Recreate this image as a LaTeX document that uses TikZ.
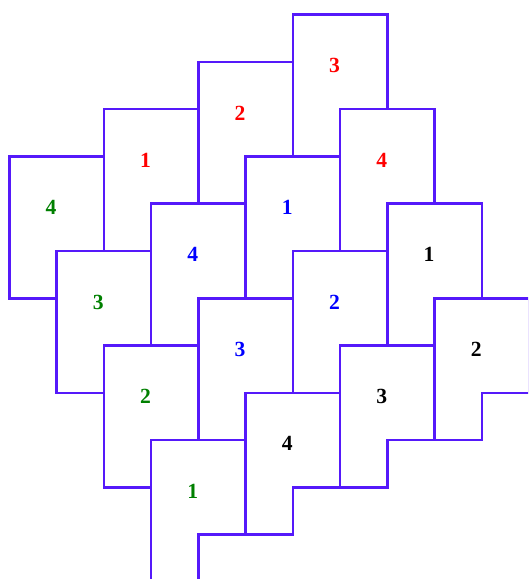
\documentclass[tikz,border=0pt]{standalone}
\usepackage{fontspec}
\setmainfont{Liberation Serif}
\definecolor{edgeblue}{RGB}{85,25,250}
\definecolor{labelgreen}{RGB}{0,128,0}
\tikzstyle{tile} = [
    draw=edgeblue,
    line width=1.5pt
]
\tikzstyle{tilelabel} = [
    inner sep=0pt,
    font=\fontsize{13}{15}\selectfont\bfseries
]
% one P-shaped tile: corner x, corner y, label, colour, name
\newcommand{\ptile}[5]{%
    \draw [tile] (#1,#2) -- ++(2,0) -- ++(0,2) -- ++(-1,0)
        -- ++(0,1) -- ++(-1,0) -- cycle;
    \node (#5) [tilelabel, text=#4] at (#1+0.88,#2+1.08) {#3};
}

\begin{document}
\begin{tikzpicture}[x=1cm, y=-1cm]

\useasboundingbox (-0.197,-0.311) rectangle (10.975,11.94);
\clip (-0.197,-0.311) rectangle (10.975,11.94);

% green tiles
\ptile{0}{3}{4}{labelgreen}{green4}
\ptile{1}{5}{3}{labelgreen}{green3}
\ptile{2}{7}{2}{labelgreen}{green2}
\ptile{3}{9}{1}{labelgreen}{green1}

% red tiles
\ptile{2}{2}{1}{red}{red1}
\ptile{4}{1}{2}{red}{red2}
\ptile{6}{0}{3}{red}{red3}
\ptile{7}{2}{4}{red}{red4}

% blue tiles
\ptile{5}{3}{1}{blue}{blue1}
\ptile{6}{5}{2}{blue}{blue2}
\ptile{4}{6}{3}{blue}{blue3}
\ptile{3}{4}{4}{blue}{blue4}

% black tiles
\ptile{8}{4}{1}{black}{black1}
\ptile{9}{6}{2}{black}{black2}
\ptile{7}{7}{3}{black}{black3}
\ptile{5}{8}{4}{black}{black4}

\end{tikzpicture}
\end{document}
